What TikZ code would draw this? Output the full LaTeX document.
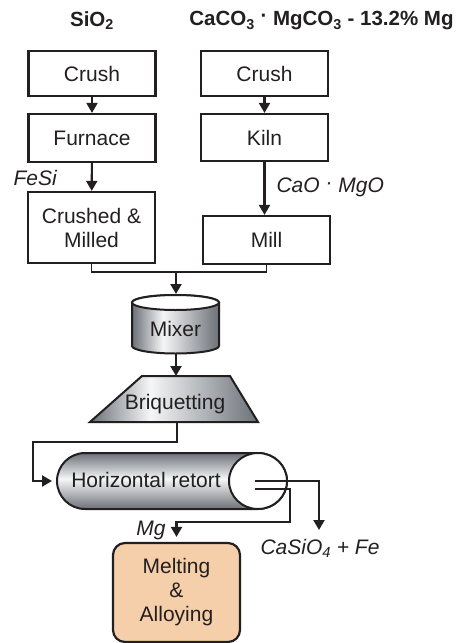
\documentclass[tikz,border=0pt]{standalone}
\usepackage{fontspec}
\setmainfont{Liberation Sans}
\usetikzlibrary{arrows.meta,calc}

\definecolor{ink}{RGB}{35,31,32}
\definecolor{steel}{RGB}{108,113,120}
\definecolor{steellt}{RGB}{245,246,247}
\definecolor{peach}{RGB}{245,206,170}

% left-to-right shading for the mixer drum and the press
\pgfdeclarehorizontalshading{drumshade}{100bp}{color(0bp)=(steel); color(25bp)=(steel); color(43bp)=(steellt); color(75bp)=(steel); color(100bp)=(steel)}
% top-to-bottom shading for the retort tube
\pgfdeclareverticalshading{tubeshade}{100bp}{color(0bp)=(steel); color(25bp)=(steel); color(52bp)=(steellt); color(75bp)=(steel); color(100bp)=(steel)}

\newcommand{\cdotup}{\raisebox{0.15em}{·}}

\begin{document}
\begin{tikzpicture}[x=1pt,y=-1pt,
  every node/.style={text=ink,font=\fontsize{21}{24}\selectfont},
  stepbox/.style={draw=ink,line width=2.2pt,minimum width=127pt,align=center,inner sep=0pt},
  flow/.style={draw=ink,line width=2.1pt,-{Triangle[width=11pt,length=10pt]}},
  link/.style={draw=ink,line width=1.8pt},
  outline/.style={draw=ink,line width=2pt},
  lbl/.style={font=\fontsize{21}{24}\selectfont\itshape},
  title/.style={font=\fontsize{20.5}{23}\selectfont\bfseries}]
\useasboundingbox (0,0) rectangle (466,643);

% feed materials
\node[title] (sio) at (92,21) {SiO\textsubscript{2}};
\node[title] (dol) at (321.5,21) {CaCO\textsubscript{3} \cdotup{} MgCO\textsubscript{3} - 13.2\% Mg};

% silica route
\node[stepbox,minimum height=45pt] (c1) at (92,73.5) {Crush};
\node[stepbox,minimum height=48pt] (f1) at (92,138) {Furnace};
\node[stepbox,minimum height=71pt] (cm) at (91.5,227.5) {Crushed \&\\Milled};

% dolomite route
\node[stepbox,minimum height=45pt] (c2) at (264.5,73.5) {Crush};
\node[stepbox,minimum height=47pt] (k2) at (264.5,137.5) {Kiln};
\node[stepbox,minimum height=48pt] (m2) at (266.5,240) {Mill};

\draw[flow] (c1) -- (f1);
\draw[flow] (f1) -- (cm);
\draw[flow] (c2) -- (k2);
\draw[flow] (k2.south) -- (k2.south |- m2.north);
\node[lbl,anchor=west] (fesi) at (10,178) {FeSi};
\node[lbl,anchor=west] (cao) at (273,187) {CaO \cdotup{} MgO};

% merge into the mixer
\coordinate (merge) at (176,272);
\draw[link] (cm.south) |- (merge) -| (m2.south);

% mixer drum
\draw[outline,shade,shading=drumshade] (132,302.5) -- (132,346)
  arc[start angle=180,end angle=360,x radius=43.5pt,y radius=7.5pt]
  -- (219,302.5)
  arc[start angle=0,end angle=180,x radius=43.5pt,y radius=7.5pt] -- cycle;
\draw[outline,fill=white] (175.5,302.5) ellipse [x radius=43.5pt,y radius=7.5pt];
\node (mix) at (175.5,329) {Mixer};
\coordinate (mixtop) at (176,294);
\coordinate (mixbot) at (176,354);
\draw[flow] (merge) -- (mixtop);

% briquetting press
\draw[outline,shade,shading=drumshade] (142,376) -- (230,376) -- (258,422) -- (90,422) -- cycle;
\node (brq) at (175,404) {Briquetting};
\coordinate (brqtop) at (176,376);
\coordinate (brqbot) at (177,422);
\draw[flow] (mixbot) -- (brqtop);

% horizontal retort
\draw[outline,shade,shading=tubeshade] (258,453) -- (85,453)
  arc[start angle=90,end angle=270,radius=28pt]
  -- (258,509)
  arc[start angle=270,end angle=450,x radius=29pt,y radius=28pt] -- cycle;
\draw[outline,fill=white] (258,481) ellipse [x radius=29pt,y radius=28pt];
\node (ret) at (146,480) {Horizontal retort};
\coordinate (retW) at (57,481);
\coordinate (feedL) at (33,442);
\draw[flow,shorten >=5pt] (brqbot) |- (feedL) |- (retW);

% retort outlets
\coordinate (slagA) at (255,481);
\coordinate (slagB) at (319,530);
\coordinate (mgA) at (255,489);
\coordinate (mgB) at (290,522);

% melting and alloying
\node[stepbox,minimum height=99pt,rounded corners=12pt,fill=peach] (melt) at (176.5,592.5) {Melting\\\&\\Alloying};

\draw[flow] (slagA) -| (slagB);
\draw[flow,shorten >=5pt] (mgA) -| (mgB) -| (melt.north);
\node[lbl] (mg) at (151,530) {Mg};
\node[lbl,anchor=west] (slag) at (257,548) {CaSiO\textsubscript{4} + Fe};
\end{tikzpicture}
\end{document}
